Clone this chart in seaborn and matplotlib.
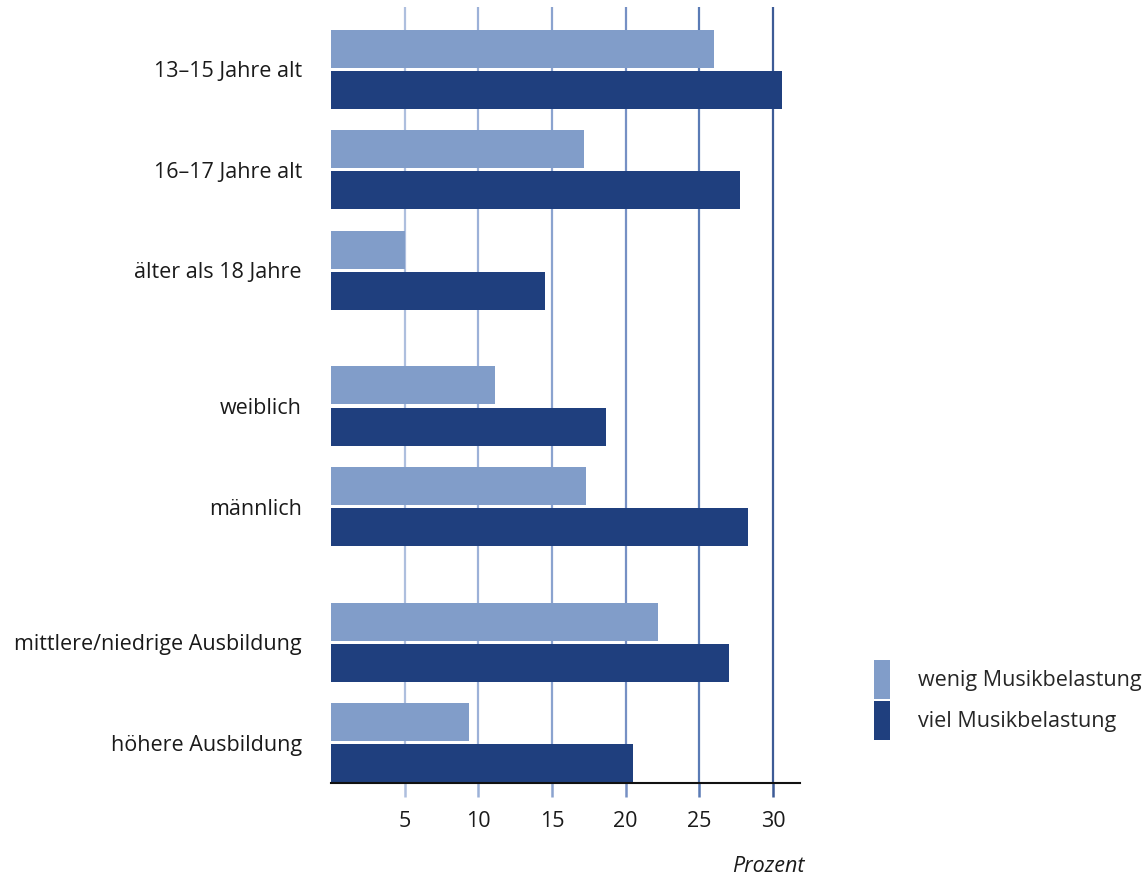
import matplotlib
matplotlib.use("Agg")
import matplotlib.pyplot as plt
import seaborn as sns
import pandas as pd
from matplotlib.patches import Patch

categories = ["13–15 Jahre alt", "16–17 Jahre alt", "älter als 18 Jahre",
              "weiblich", "männlich",
              "mittlere/niedrige Ausbildung", "höhere Ausbildung"]
wenig = [26.0, 17.2, 5.0, 11.1, 17.3, 22.2, 9.4]
viel = [30.6, 27.8, 14.5, 18.7, 28.3, 27.0, 20.5]
series = ["wenig Musikbelastung", "viel Musikbelastung"]
xticks = [5, 10, 15, 20, 25, 30]

# layout: row positions with extra gaps between groups
positions = [0, 1, 2, 3.35, 4.35, 5.7, 6.7]

sns.set_theme(style="white")
plt.rcParams["font.family"] = ["Open Sans", "DejaVu Sans"]

rows = []
for cat, pos, w, v in zip(categories, positions, wenig, viel):
    rows.append({"pos": pos, "cat": cat, "serie": series[0], "val": w})
    rows.append({"pos": pos, "cat": cat, "serie": series[1], "val": v})
df = pd.DataFrame(rows)

colors = {series[0]: "#819dc9", series[1]: "#1f3f7e"}
FS = 15.5

fig = plt.figure(figsize=(11.48, 8.77), dpi=100)
ax = fig.add_axes([331 / 1148, 1 - 783 / 877, (800 - 331) / 1148, (783 - 5) / 877])

sns.barplot(data=df, y="pos", x="val", hue="serie", hue_order=series,
            orient="y", native_scale=True, palette=colors, width=0.82, gap=0.08,
            linewidth=0, saturation=1, ax=ax, legend=False, zorder=2)

ax.set_ylim(7.1, -0.64)
ax.set_xlim(0, 31.84)

grid_colors = ["#aebfde", "#9cb1d8", "#8ba3cf", "#7690c4", "#5a7bb5", "#3d5b96"]
ax.vlines(xticks, 0, 776 / 778, transform=ax.get_xaxis_transform(),
          colors=grid_colors, linewidth=1.6, zorder=0)

ax.set_yticks(positions)
ax.set_yticklabels(categories)
ax.set_xticks(xticks)
ax.set_xticklabels([str(t) for t in xticks])
ax.set_xlabel("")
ax.set_ylabel("")

for s in ["top", "right", "left"]:
    ax.spines[s].set_visible(False)
ax.spines["bottom"].set_color("#111111")
ax.spines["bottom"].set_linewidth(1.5)
ax.spines["bottom"].set_zorder(5)

ax.tick_params(axis="y", length=0, pad=21, labelsize=FS, labelcolor="#1a1a1a")
ax.tick_params(axis="x", bottom=True, direction="out", length=10, width=1.8,
               color="#8ba3cf", pad=10, labelsize=FS, labelcolor="#1a1a1a")

fig.text(805 / 1148, 1 - 866 / 877, "Prozent", ha="right", va="center",
         fontsize=FS, style="italic", color="#1a1a1a")

handles = [Patch(facecolor=colors[s], edgecolor="none") for s in series]
fig.legend(handles, series, loc="center left",
           bbox_to_anchor=(874 / 1148, 1 - 700 / 877), frameon=False,
           fontsize=FS, handlelength=0.75, handleheight=2.4,
           handletextpad=1.3, labelspacing=0.1, borderaxespad=0, borderpad=0)

for tick, gc in zip(ax.xaxis.get_major_ticks(), grid_colors):
    tick.tick1line.set_markeredgecolor(gc)

fig.savefig("out.png", dpi=100)
